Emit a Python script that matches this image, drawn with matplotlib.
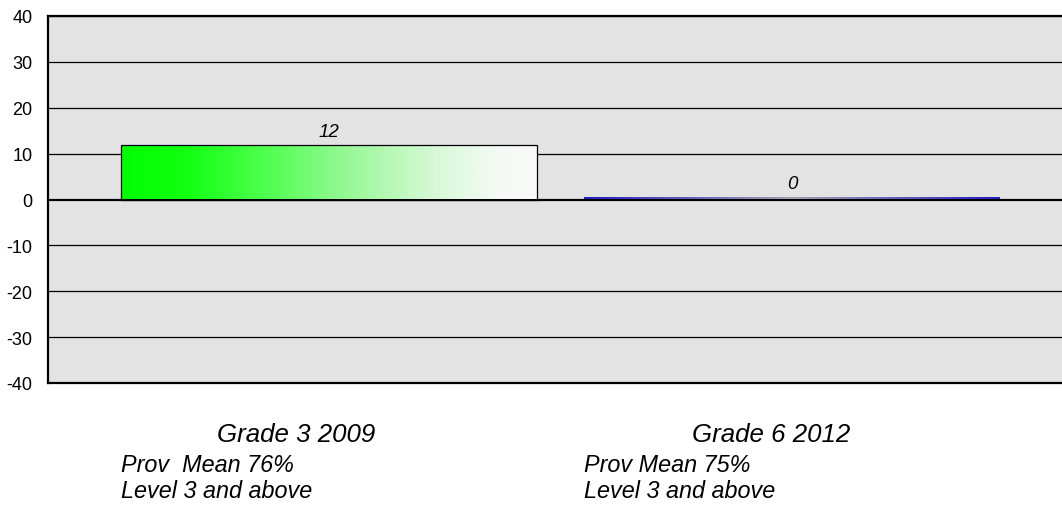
import matplotlib
matplotlib.use("Agg")
import matplotlib.pyplot as plt
import numpy as np
from matplotlib.colors import LinearSegmentedColormap
from matplotlib.transforms import blended_transform_factory

categories = ["Grade 3 2009", "Grade 6 2012"]
sublines = [["Prov  Mean 76%", "Level 3 and above"], ["Prov Mean 75%", "Level 3 and above"]]
values = [11.8, 0.5]
value_labels = ["12", "0"]
yticks = [-40, -30, -20, -10, 0, 10, 20, 30, 40]

plt.rcParams['font.family'] = ['Liberation Sans', 'DejaVu Sans']

W, H = 1062, 506
fig = plt.figure(figsize=(W / 100, H / 100), dpi=100)
left_px, right_px, top_px, bot_px = 48, 1068, 17, 384
ax = fig.add_axes([left_px / W, 1 - bot_px / H, (right_px - left_px) / W, (bot_px - top_px) / H])
ax.set_facecolor("#e3e3e3")

spacing = 463.0
c0 = 329.0
xmin = (left_px - c0) / spacing
xmax = (right_px - c0) / spacing

bar_w = 416 / spacing
x = np.arange(len(categories))

for t in yticks:
    ax.axhline(t, color="black", lw=0.9 if t != 0 else 1.6, zorder=1)

cmap_green = LinearSegmentedColormap.from_list(
    "g", [(0, "#00ff00"), (0.15, "#10ff10"), (0.35, "#50ff50"), (0.55, "#99f799"),
          (0.75, "#d5f9d5"), (0.9, "#f4f9f4"), (1, "#f9f9f9")])
cmap_blue = LinearSegmentedColormap.from_list(
    "b", [(0, "#2020c0"), (0.5, "#a0a0b0"), (1, "#2020c0")])
cmaps = [cmap_green, cmap_blue]
edges = ["black", "none"]

grad = np.linspace(0, 1, 256).reshape(1, -1)
bars = ax.bar(x, values, width=bar_w, color="none", edgecolor=edges, linewidth=0.9, zorder=3)
for b, cm in zip(bars, cmaps):
    bx, by = b.get_x(), b.get_y()
    bw, bh = b.get_width(), b.get_height()
    im = ax.imshow(grad, cmap=cm, aspect="auto", extent=[bx, bx + bw, by, by + bh],
                   zorder=2, interpolation="bilinear")
    im.set_clip_path(b)
ax.set_xlim(xmin, xmax)
ax.set_ylim(-40, 40)

for xi, v, lab in zip(x, values, value_labels):
    ax.annotate(lab, (xi, v), xytext=(0, 4), textcoords="offset points",
                ha="center", va="bottom", fontsize=13.5, style="italic")

ax.set_yticks(yticks)
ax.set_yticklabels([str(t) for t in yticks], fontsize=13)
ax.tick_params(axis="y", length=0, pad=11)
ax.set_xticks([])
for s in ax.spines.values():
    s.set_linewidth(1.6)
    s.set_color("black")

trans = blended_transform_factory(ax.transData, fig.transFigure)
grade_cx = [296, 771]
for i, (cat, subs) in enumerate(zip(categories, sublines)):
    fig.text(grade_cx[i] / W, 1 - 435 / H, cat, ha="center", va="center",
             fontsize=18.6, style="italic")
    lx = bars[i].get_x()
    for j, s in enumerate(subs):
        ys = [466, 492][j]
        ax.text(lx, 1 - ys / H, s, transform=trans, ha="left", va="center",
                fontsize=16.8, style="italic", clip_on=False)

fig.savefig("out.png", dpi=100)
